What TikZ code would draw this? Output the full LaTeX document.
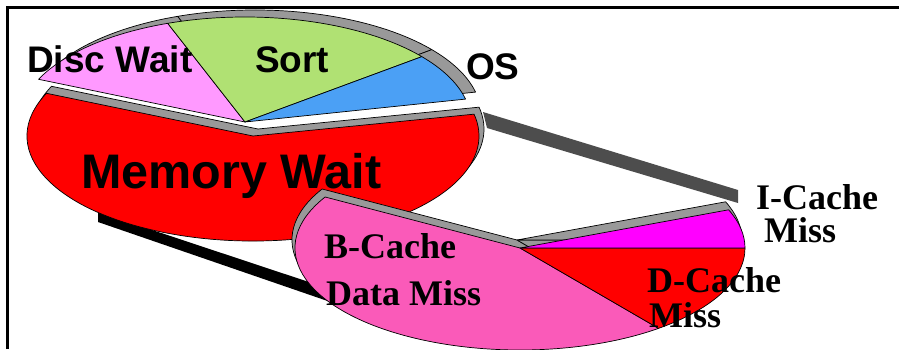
\documentclass[tikz,border=0pt]{standalone}
\usepackage{fontspec}
\setmainfont{Liberation Serif}
\newfontfamily\piesans{Liberation Sans}

\definecolor{rimgray}{RGB}{153,153,153}
\definecolor{bandgray}{RGB}{77,77,77}
\definecolor{discpink}{RGB}{255,153,255}
\definecolor{sortgreen}{RGB}{176,225,115}
\definecolor{osblue}{RGB}{75,160,245}
\definecolor{memred}{RGB}{255,0,0}
\definecolor{bcpink}{RGB}{250,90,185}
\definecolor{icmagenta}{RGB}{255,0,255}
\definecolor{dcred}{RGB}{255,0,0}

\tikzset{
  % elliptic pie wedge: start angle, end angle, x radius, y radius
  pics/wedge/.style n args={4}{code={%
    \path[pic actions] (0,0) -- (#1:#3 and #4)
      arc[start angle=#1, end angle=#2, x radius=#3, y radius=#4] -- cycle;}},
  slice/.style={draw=black, line width=0.7pt, line join=round},
  rim/.style={fill=rimgray, draw=black, line width=0.7pt, line join=round},
  sanslabel/.style={font=\piesans\bfseries\fontsize{37}{40}\selectfont,
    inner sep=0pt, anchor=base west},
  biglabel/.style={font=\piesans\bfseries\fontsize{48.5}{52}\selectfont,
    inner sep=0pt, anchor=base west},
  seriflabel/.style={font=\bfseries\fontsize{36}{40}\selectfont,
    inner sep=0pt, anchor=base west},
}

\begin{document}
\begin{tikzpicture}[x=1pt, y=1pt]
\useasboundingbox (0,0) rectangle (899,349);

% frame
\draw[line width=2.5pt, line join=miter] (7.5,0) -- (7.5,341.5) -- (899,341.5);

% pie centres and their raised copies
\coordinate (U)  at (245,227);
\coordinate (Ug) at (255,234);
\coordinate (M)  at (253,213);
\coordinate (Mg) at (258,220);
\coordinate (L)  at (520,101);
\coordinate (Lg) at (517,109);

% connector ends
\coordinate (memR1) at (483,237);
\coordinate (memR2) at (487,221);
\coordinate (icT)   at (738,159);
\coordinate (icB)   at (738,146);
\coordinate (memB1) at (98,137);
\coordinate (memB2) at (98,127);
\coordinate (bcL1)  at (345,55);
\coordinate (bcL2)  at (345,42);

% connectors from the memory-wait slice to the breakdown pie
\fill[bandgray] (memR1) -- (icT) -- (icB) -- (memR2) -- cycle;
\fill[black] (memB1) -- (bcL1) -- (bcL2) -- (memB2) -- cycle;

% upper slices
\pic[rim] at (Ug) {wedge={110}{156}{226}{105}};
\pic[rim] at (Ug) {wedge={38.5}{110}{226}{105}};
\pic[rim] at (Ug) {wedge={12.6}{38.5}{226}{105}};
\pic[slice, fill=discpink] at (U) {wedge={110}{156}{226}{105}};
\pic[slice, fill=sortgreen] at (U) {wedge={38.5}{110}{226}{105}};
\pic[slice, fill=osblue] at (U) {wedge={12.6}{38.5}{226}{105}};

% memory wait slice
\pic[rim] at (Mg) {wedge={156}{372}{226}{105}};
\pic[slice, fill=memred] at (M) {wedge={156}{372}{226}{105}};

% breakdown pie
\pic[rim] at (Lg) {wedge={150}{308}{225}{102}};
\pic[rim] at (Lg) {wedge={308}{360}{225}{102}};
\pic[rim] at (Lg) {wedge={0}{22}{225}{102}};
\pic[slice, fill=bcpink] at (L) {wedge={150}{308}{225}{102}};
\pic[slice, fill=dcred] at (L) {wedge={308}{360}{225}{102}};
\pic[slice, fill=icmagenta] at (L) {wedge={0}{22}{225}{102}};

% labels
\node[sanslabel] (disc) at (27,277) {Disc Wait};
\node[sanslabel] (sort) at (255,277) {Sort};
\node[sanslabel] (os) at (466,270) {OS};
\node[biglabel] (mem) at (81,161) {Memory Wait};
\node[seriflabel] (bcache) at (324,91) {B-Cache};
\node[seriflabel] (bdata) at (326,44) {Data Miss};
\node[seriflabel] (icache) at (756,140) {I-Cache};
\node[seriflabel] (imiss) at (764,107) {Miss};
\node[seriflabel] (dcache) at (647,57) {D-Cache};
\node[seriflabel] (dmiss) at (649,22) {Miss};
\end{tikzpicture}
\end{document}
